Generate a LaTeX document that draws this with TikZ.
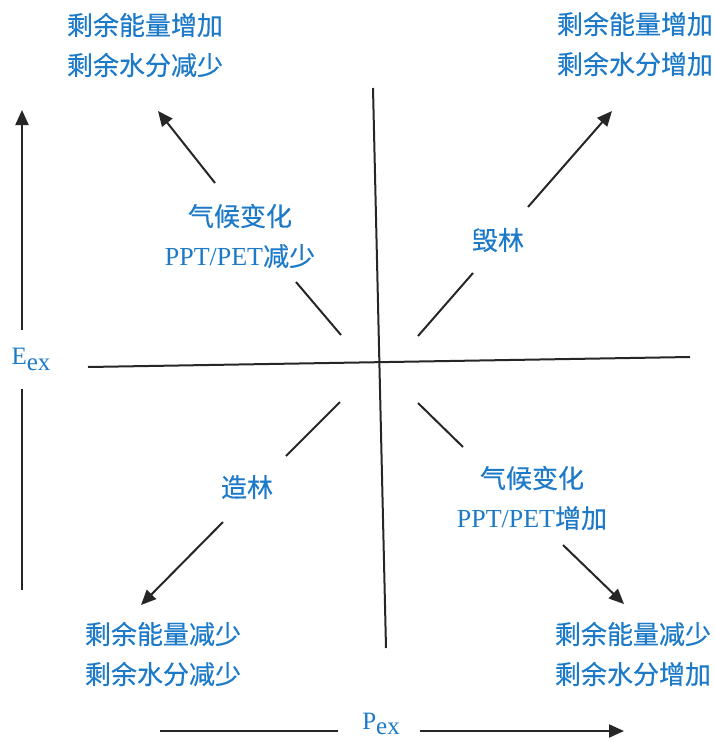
\documentclass[tikz,border=0pt]{standalone}
\usepackage{fontspec}
\setmainfont{Liberation Serif}
\newfontfamily\cjk[FakeBold=0.4]{Noto Sans CJK SC}
\usetikzlibrary{arrows.meta}
\definecolor{lblue}{RGB}{28,122,200}
\tikzset{
  ln/.style={line width=2pt, draw=black!85},
  arr/.style={ln, -{Triangle[length=15pt,width=13pt]}},
  lab/.style={text=lblue, font=\cjk\fontsize{26}{40}\selectfont, align=center, inner sep=0pt},
  axlab/.style={text=lblue, font=\fontsize{25}{28}\selectfont, inner sep=0pt},
}
\begin{document}
\begin{tikzpicture}[x=1pt,y=-1pt]
\useasboundingbox (0,0) rectangle (715,742);
% quadrant texts
\node[lab] (tl) at (145,45) {剩余能量增加\\剩余水分减少};
\node[lab] (tr) at (635,44) {剩余能量增加\\剩余水分增加};
\node[lab] (bl) at (163,654) {剩余能量减少\\剩余水分减少};
\node[lab] (br) at (633,654) {剩余能量减少\\剩余水分增加};
\node[lab] (nw) at (240,236) {气候变化\\{\fontspec{Liberation Serif}PPT/PET}减少};
\node[lab] (ne) at (498,240) {毁林};
\node[lab] (sw) at (247,487) {造林};
\node[lab] (se) at (532,498) {气候变化\\{\fontspec{Liberation Serif}PPT/PET}增加};
\node[axlab] (ex) at (31,359) {E\raisebox{-6pt}{ex}};
\node[axlab] (px) at (381,724) {P\raisebox{-5pt}{ex}};
% centre cross
\coordinate (vt) at (373,88); \coordinate (vb) at (386,648);
\coordinate (hl) at (88,367); \coordinate (hr) at (690,357);
\draw[ln] (vt) -- (vb);
\draw[ln] (hl) -- (hr);
% left axis
\coordinate (ea) at (22,590); \coordinate (eb) at (22,389);
\coordinate (ec) at (22,330); \coordinate (ed) at (22,110);
\draw[ln] (ea) -- (eb);
\draw[arr] (ec) -- (ed);
% bottom axis
\coordinate (pa) at (160,731); \coordinate (pb) at (338,731);
\coordinate (pc) at (420,731); \coordinate (pd) at (624,731);
\draw[ln] (pa) -- (pb);
\draw[arr] (pc) -- (pd);
% NW
\coordinate (nw1) at (341,335); \coordinate (nw2) at (296,282);
\coordinate (nw3) at (215,183); \coordinate (nw4) at (158,111);
\draw[ln] (nw1) -- (nw2);
\draw[arr] (nw3) -- (nw4);
% NE
\coordinate (ne1) at (418,336); \coordinate (ne2) at (473,273);
\coordinate (ne3) at (528,207); \coordinate (ne4) at (612,111);
\draw[ln] (ne1) -- (ne2);
\draw[arr] (ne3) -- (ne4);
% SW
\coordinate (sw1) at (340,402); \coordinate (sw2) at (286,456);
\coordinate (sw3) at (223,522); \coordinate (sw4) at (141,605);
\draw[ln] (sw1) -- (sw2);
\draw[arr] (sw3) -- (sw4);
% SE
\coordinate (se1) at (418,403); \coordinate (se2) at (463,447);
\coordinate (se3) at (563,545); \coordinate (se4) at (624,604);
\draw[ln] (se1) -- (se2);
\draw[arr] (se3) -- (se4);
\end{tikzpicture}
\end{document}
